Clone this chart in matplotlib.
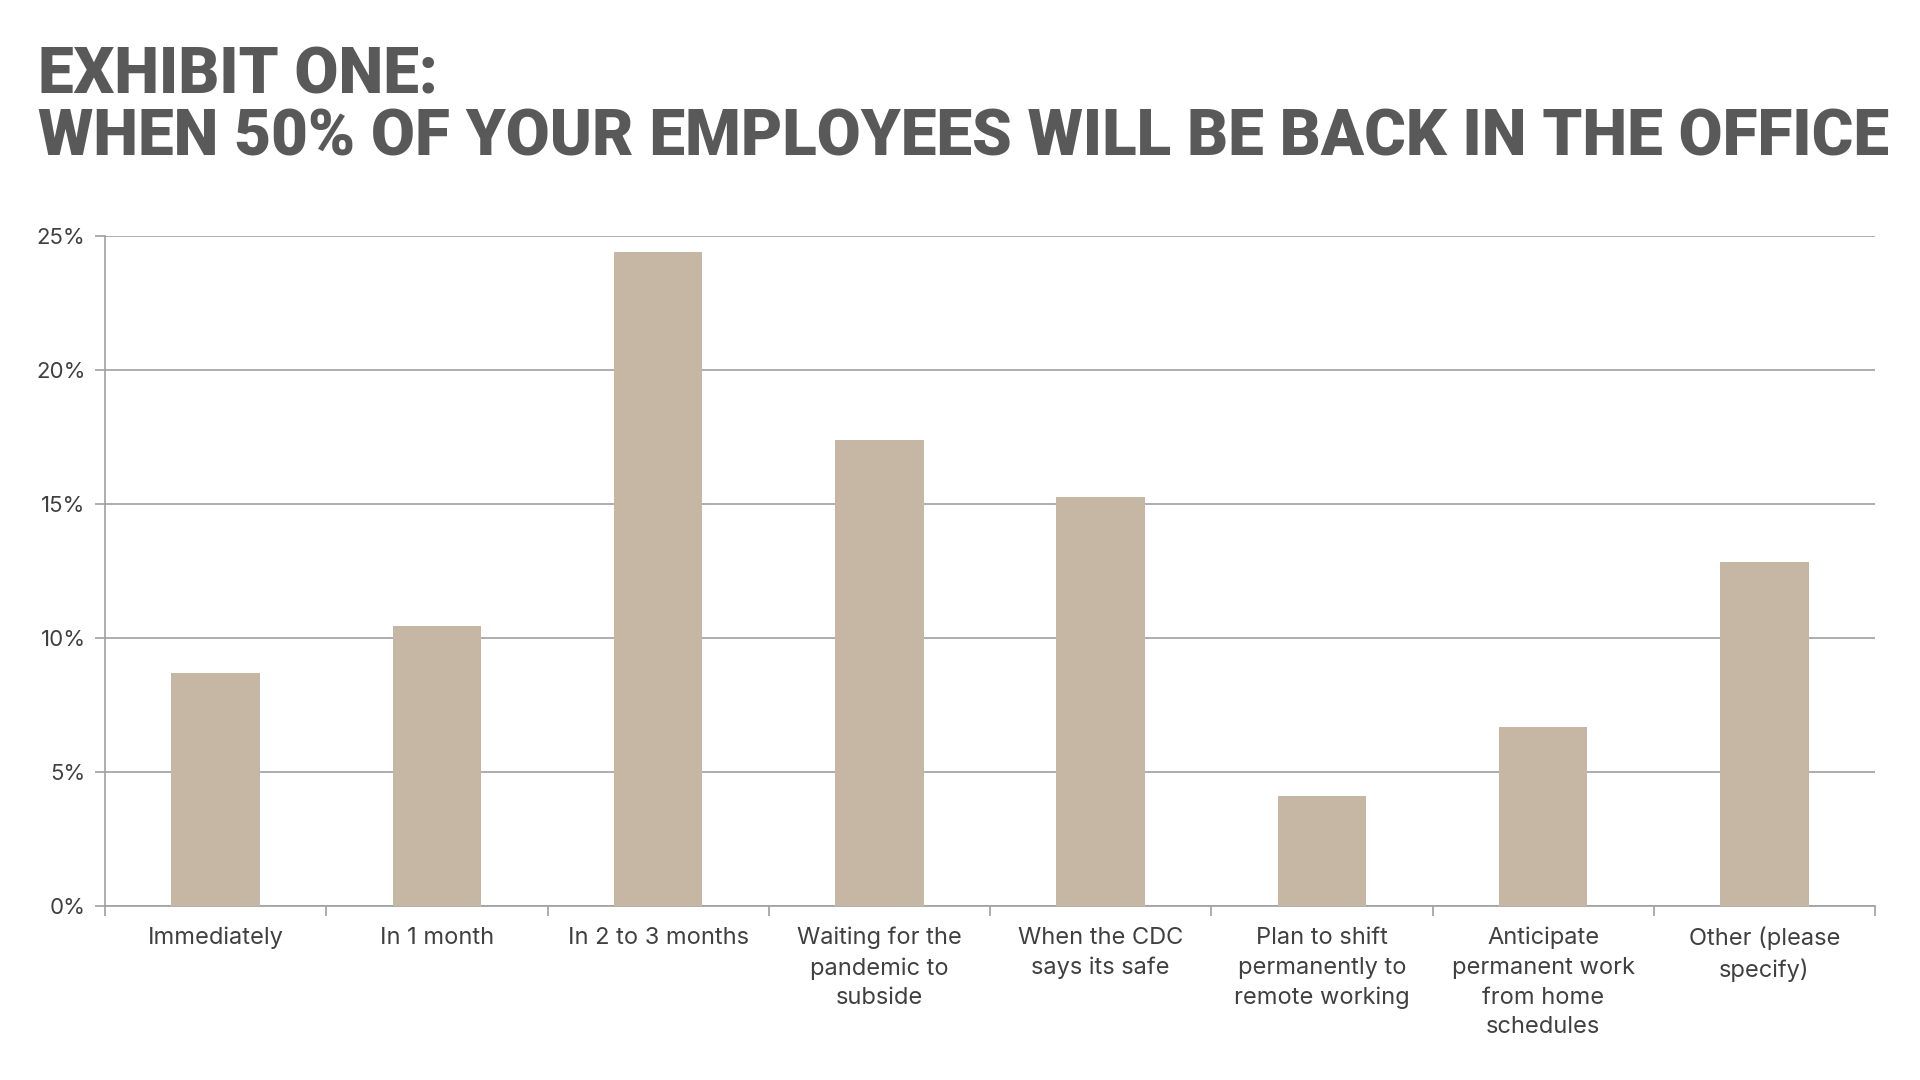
import matplotlib
matplotlib.use("Agg")
import matplotlib.pyplot as plt
from matplotlib.ticker import FixedLocator, PercentFormatter

categories = [
    "Immediately",
    "In 1 month",
    "In 2 to 3 months",
    "Waiting for the\npandemic to\nsubside",
    "When the CDC\nsays its safe",
    "Plan to shift\npermanently to\nremote working",
    "Anticipate\npermanent work\nfrom home\nschedules",
    "Other (please\nspecify)",
]
shares = [8.7, 10.45, 24.4, 17.4, 15.25, 4.1, 6.7, 12.85]
y_ticks = [0, 5, 10, 15, 20, 25]
title_lines = ["EXHIBIT ONE:", "WHEN 50% OF YOUR EMPLOYEES WILL BE BACK IN THE OFFICE"]

BAR_COLOR = "#C5B7A3"
GRID_COLOR = "#A0A0A0"
TEXT_COLOR = "#404040"
TITLE_COLOR = "#595959"

plt.rcParams["font.family"] = ["Inter", "DejaVu Sans"]

fig = plt.figure(figsize=(19.2, 10.8), dpi=100)
ax = fig.add_axes([0.0547, 0.161, 0.9219, 0.6205])

x = list(range(len(categories)))
ax.bar(x, shares, width=0.4, color=BAR_COLOR, zorder=3)

ax.set_xlim(-0.5, len(categories) - 0.5)
ax.set_ylim(0, 25)
ax.set_yticks(y_ticks)
ax.yaxis.set_major_formatter(PercentFormatter(decimals=0))
ax.grid(axis="y", color=GRID_COLOR, linewidth=1.2, zorder=0)

# category labels centred, tick marks on the category boundaries
ax.set_xticks(x)
ax.set_xticklabels(categories, fontsize=17, color=TEXT_COLOR, linespacing=1.45)
ax.xaxis.set_minor_locator(FixedLocator([i - 0.5 for i in range(len(categories) + 1)]))
ax.tick_params(axis="x", which="major", length=0, pad=15)
ax.tick_params(axis="x", which="minor", length=7, width=1.2, color=GRID_COLOR)
ax.tick_params(axis="y", length=7, width=1.2, color=GRID_COLOR, labelsize=16,
               labelcolor=TEXT_COLOR, pad=7)

for side in ["top", "right"]:
    ax.spines[side].set_visible(False)
for side in ["left", "bottom"]:
    ax.spines[side].set_color(GRID_COLOR)
    ax.spines[side].set_linewidth(1.2)

# headline: size it so the long line spans the same width as the reference
title_kw = dict(fontsize=44, fontweight="black", family=["Roboto", "DejaVu Sans"],
                color=TITLE_COLOR)
t1 = fig.text(0.0198, 0.913, title_lines[0], **title_kw)
t2 = fig.text(0.0198, 0.856, title_lines[1], **title_kw)
renderer = fig.canvas.get_renderer()
width_px = t2.get_window_extent(renderer).width
size = min(44 * 1848 / width_px, 48)
t1.set_fontsize(size)
t2.set_fontsize(size)

fig.savefig("out.png", dpi=100, facecolor="white")
plt.close(fig)
